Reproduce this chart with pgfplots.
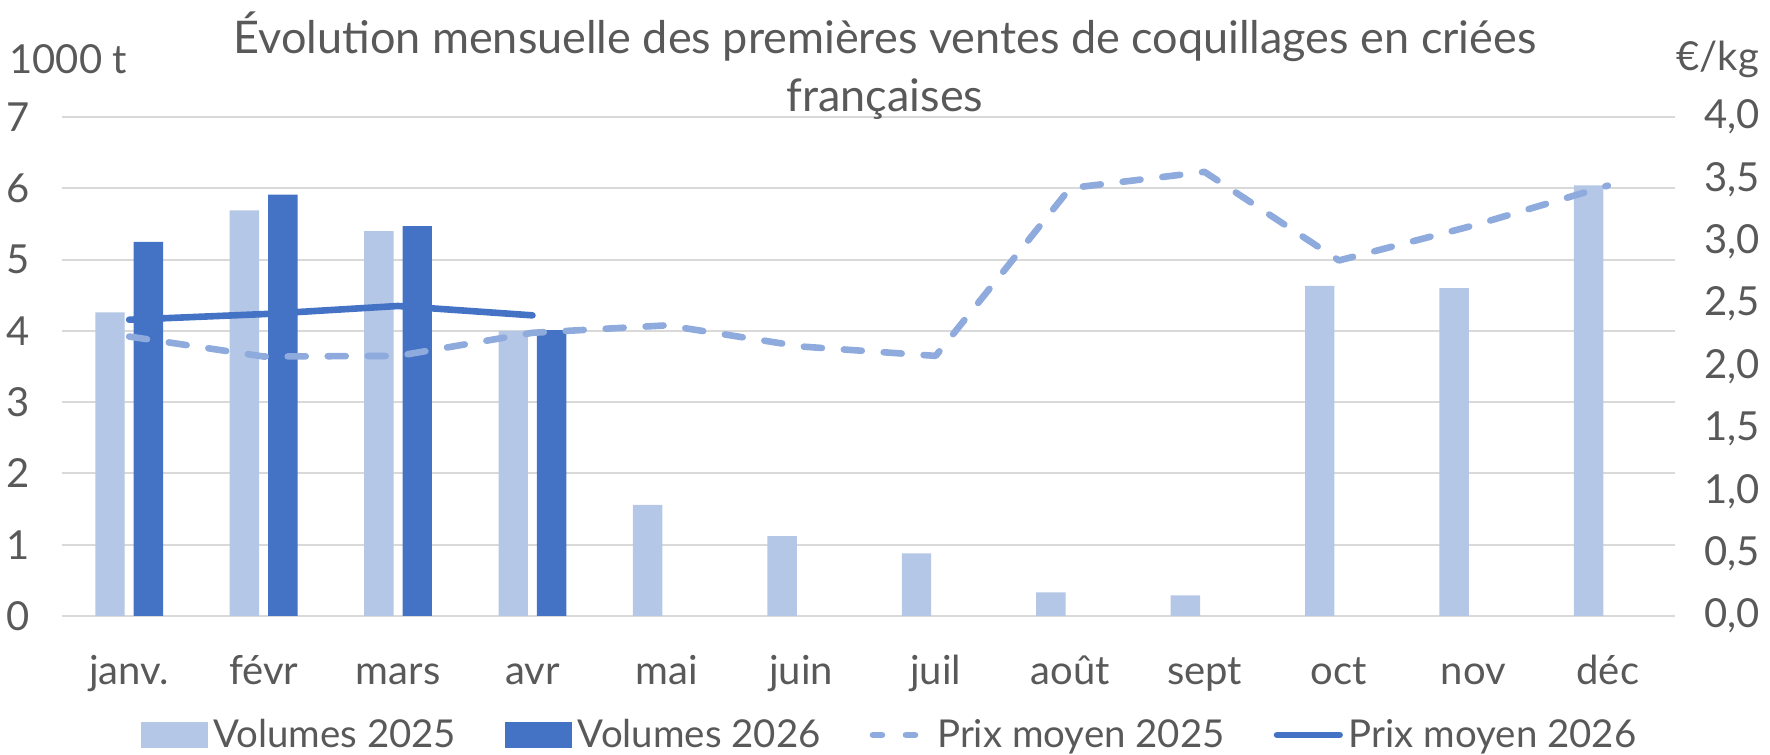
\documentclass[border=0pt]{standalone}
\usepackage{pgfplots}
\pgfplotsset{compat=1.18}
\usepackage{fontspec}
\setmainfont{Lato}
\definecolor{c25}{HTML}{B4C7E7}
\definecolor{c26}{HTML}{4472C4}
\definecolor{p25}{HTML}{8FAADC}
\definecolor{gridc}{HTML}{D9D9D9}
\definecolor{txt}{HTML}{595959}
\newcommand\fs{\fontsize{20pt}{24pt}\selectfont}
\newcommand\fl{\fontsize{19.2pt}{23pt}\selectfont}
\begin{document}
\begin{tikzpicture}
\path[use as bounding box] (0,0) rectangle (885pt,377pt);
\pgfplotsset{
  base/.style={
    scale only axis, width=806.5pt, height=249.5pt,
    at={(31pt,69pt)}, anchor=south west,
    xmin=-0.5, xmax=11.5,
    axis line style={draw=none},
    major tick length=0pt,
    tick label style={font=\fs, text=txt},
    /pgf/number format/assume math mode=true,
  }
}
\begin{axis}[base,
  ymin=0, ymax=7, ytick={0,1,2,3,4,5,6,7},
  ymajorgrids, grid style={gridc, line width=1pt},
  xtick={0,1,2,3,4,5,6,7,8,9,10,11},
  xticklabels={janv.,févr,mars,avr,mai,juin,juil,août,sept,oct,nov,déc},
  xticklabel style={anchor=base, inner sep=0pt, yshift=-34.5pt},
  yticklabel style={anchor=east, inner sep=0pt, xshift=-16pt},
]
\addplot[ybar, bar width=14.7pt, bar shift=-9.6pt, fill=c25, draw=none] coordinates {
(0,4.26) (1,5.69) (2,5.40) (3,4.00) (4,1.56) (5,1.12) (6,0.88) (7,0.33) (8,0.29) (9,4.63) (10,4.60) (11,6.04)};
\addplot[ybar, bar width=14.7pt, bar shift=9.6pt, fill=c26, draw=none] coordinates {
(0,5.25) (1,5.91) (2,5.47) (3,4.01)};
\end{axis}
\begin{axis}[base,
  ymin=0, ymax=4, ytick={0,0.5,1,1.5,2,2.5,3,3.5,4},
  xtick=\empty,
  yticklabel pos=right,
  yticklabel style={anchor=west, inner sep=0pt, xshift=14.5pt,
    /pgf/number format/.cd, fixed, fixed zerofill, precision=1, use comma},
  legend columns=4,
  legend style={at={(0.513,-0.2385)}, anchor=center, draw=none, fill=none,
    font=\fl, text=txt, inner sep=0pt,
    nodes={inner sep=1pt},
    /tikz/every odd column/.append style={column sep=2pt},
    /tikz/every even column/.append style={column sep=23.5pt}},
]
\addlegendimage{legend image code/.code={\fill[c25] (0pt,-6.2pt) rectangle (33pt,6.2pt);}}
\addlegendentry{Volumes 2025}
\addlegendimage{legend image code/.code={\fill[c26] (0pt,-6.2pt) rectangle (33pt,6.2pt);}}
\addlegendentry{Volumes 2026}
\addplot[p25, line width=3.3pt, dash pattern=on 9pt off 11pt, line cap=round, line join=round,
  legend image code/.code={\draw[p25, line width=3.3pt, dash pattern=on 4.5pt off 12pt, line cap=round] (3.5pt,0pt) -- (31pt,0pt);}] coordinates {
(0,2.24) (1,2.08) (2,2.085) (3,2.27) (4,2.33) (5,2.16) (6,2.085) (7,3.43) (8,3.56) (9,2.85) (10,3.13) (11,3.45)};
\addlegendentry{Prix moyen 2025}
\addplot[c26, line width=3.3pt, line cap=round, line join=round,
  legend image code/.code={\draw[c26, line width=3.3pt, line cap=round] (1.7pt,0pt) -- (33pt,0pt);}] coordinates {
(0,2.375) (1,2.42) (2,2.485) (3,2.41)};
\addlegendentry{Prix moyen 2026}
\end{axis}
\node[font=\fontsize{22.5pt}{29pt}\selectfont, text=txt, align=center] at (442.5pt,344pt)
  {Évolution mensuelle des premières ventes de coquillages en criées\\françaises};
\node[anchor=west, font=\fs, text=txt, inner sep=0pt] at (4.5pt,347.5pt) {1000 t};
\node[anchor=west, font=\fs, text=txt, inner sep=0pt] at (838pt,347.5pt) {€/kg};
\end{tikzpicture}
\end{document}
